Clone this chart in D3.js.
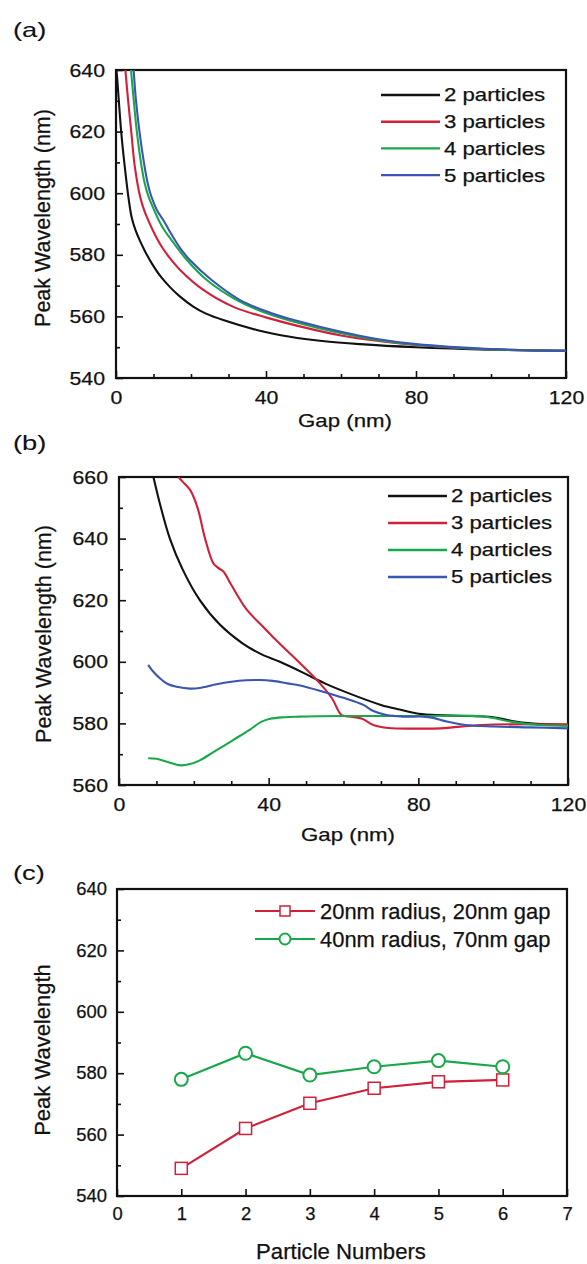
<!doctype html>
<html lang="en">
<head>
  <meta charset="utf-8">
  <title>Peak wavelength vs gap</title>
  <style>
    body { margin: 0; background: #fff; }
    svg { display: block; }
    text { font-family: "Liberation Sans", Arial, sans-serif; fill: #111; stroke: #111; stroke-width: 0.25; }
    text.plain { stroke-width: 0.1; }
  </style>
</head>
<body>
  <script src="https://cdn.jsdelivr.net/npm/d3@7/dist/d3.min.js"></script>
  <script>
    // ---- data ----
    var seriesNames = ['2 particles', '3 particles', '4 particles', '5 particles']
    var seriesColors = ['#111111', '#d0203a', '#18a84a', '#3b55b2']

    // panel (a): [gap nm, peak nm]
    var a2 = [[0,641],[0.27,638],[0.72,630.5],[1.41,619.6],[2.32,608.8],[3.39,598],[4.2,592],[5.2,588],[6.4,584.5],[7.8,581],[9.5,577.3],[12,572.8],[14.4,569.5],[17,566.5],[20.6,563.2],[24,560.9],[28.6,558.8],[37.5,555.6],[46.4,553.4],[55,552],[65,551],[80,550],[100,549.2],[120,548.8]]
    var a3 = [[2.5,640],[3.2,630.5],[4.1,619.6],[5,608.8],[6.5,598.5],[7.5,594.5],[8.5,591.5],[10,587.5],[12.2,582.6],[14,579.5],[17.1,575.1],[23.3,568.6],[31.3,563.1],[40.2,559.6],[48.2,557],[60,553.8],[70,552],[80,550.7],[100,549.3],[120,548.8]]
    var a4 = [[4,640],[4.7,630.5],[5.6,619.6],[6.8,608.8],[7.7,603],[8.7,598.8],[10,595],[11.5,591],[13,587.8],[14.8,584.8],[16.5,582],[18.9,578.3],[24.2,571.8],[32.2,565.3],[40.2,561],[48.2,558],[60,554.5],[70,552.3],[80,550.8],[100,549.3],[120,548.8]]
    var a5 = [[4.7,640],[5.3,630.5],[6.3,619.6],[7.6,608.8],[8.5,603],[9.4,599],[11,594.3],[12.6,591.3],[14,588.3],[15.7,584.8],[17.5,581.5],[19.7,578.3],[25.5,571.8],[33.1,565.3],[41.1,561.2],[48.2,558.6],[60,555],[70,552.6],[80,551],[100,549.4],[120,548.8]]

    // panel (b): [gap nm, peak nm]
    var b2 = [[9.2,660],[11,651],[13.6,640],[17,630],[21.6,620],[27,612],[33,606],[38,602.5],[43,600],[50,596],[55,593],[62,589.5],[70,586],[75,584.5],[81,583],[90,582.5],[100,582],[105,580.8],[110,580],[120,579.5]]
    var b3 = [[15.9,660],[17,658.5],[19,655.8],[21,650],[23,640],[25.2,632],[26.5,630.5],[27.9,629.3],[30,625],[34.1,617],[38,612],[41.2,608],[45,603.5],[48.4,599.5],[53.7,593],[57,588],[59.5,582.7],[62,582.2],[65,581.5],[68,579.5],[72,578.5],[80,578.3],[86,578.4],[97,579.5],[120,579.7]]
    var b4 = [[7.8,568.7],[10,568.5],[13,567.5],[16.3,566.4],[19,566.8],[21.6,568],[25,570.5],[30.5,574.6],[35,578],[38,580.5],[40.4,581.5],[44,582],[48,582.2],[60,582.4],[80,582.4],[97,582.3],[105,580.5],[112,579.5],[120,579.2]]
    var b5 = [[7.8,599],[9,597],[11,594.6],[13,592.8],[15.4,591.9],[19,591.3],[22,591.6],[26.1,592.7],[30,593.5],[34,594],[37.7,594.1],[41,593.8],[45,593],[48.4,592.3],[54.5,590.3],[60,588.3],[65.3,586],[68,584],[71.5,582.7],[76,582.2],[81.3,582.2],[84,581.8],[87.6,580.6],[92.6,579.5],[100,579],[110,578.7],[120,578.4]]

    // panel (c)
    var particleNumbers = [1, 2, 3, 4, 5, 6]
    var peak20 = [549, 562, 570.2, 575.1, 577.2, 577.8]
    var peak40 = [578, 586.5, 579.4, 582.1, 584.1, 582.1]
    var seriesC = ['20nm radius, 20nm gap', '40nm radius, 70nm gap']

    var ticksGap = [0, 40, 80, 120]
    var ticksGapMinor = [10, 20, 30, 50, 60, 70, 90, 100, 110]
    var ticksA = [540, 560, 580, 600, 620, 640]
    var ticksB = [560, 580, 600, 620, 640, 660]
    var ticksC = [540, 560, 580, 600, 620, 640]
    var ticksCx = [0, 1, 2, 3, 4, 5, 6, 7]

    var svg = d3.select('body').append('svg')
      .attr('width', 587)
      .attr('height', 1264)

    // text in the original is wider than Arial; stretch it after layout
    function stretch(sel, k) {
      sel.each(function() {
        var len = this.getComputedTextLength()
        d3.select(this).attr('textLength', len * k).attr('lengthAdjust', 'spacingAndGlyphs')
      })
    }

    function panel(cfg) {
      var x = d3.scaleLinear().domain(cfg.xDomain).range([cfg.left, cfg.right])
      var y = d3.scaleLinear().domain(cfg.yDomain).range([cfg.bottom, cfg.top])
      var g = svg.append('g')

      var clipId = 'clip' + cfg.id
      g.append('clipPath').attr('id', clipId)
        .append('rect')
          .attr('x', cfg.left).attr('y', cfg.top)
          .attr('width', cfg.right - cfg.left).attr('height', cfg.bottom - cfg.top)

      // minor ticks
      g.append('g')
        .attr('transform', 'translate(0,' + cfg.bottom + ')')
        .call(d3.axisBottom(x).tickValues(cfg.xMinor).tickSize(-4).tickFormat(''))
      g.append('g')
        .attr('transform', 'translate(' + cfg.left + ',0)')
        .call(d3.axisLeft(y).tickValues(cfg.yMinor).tickSize(-4).tickFormat(''))

      // major ticks with labels
      var xa = g.append('g')
        .attr('transform', 'translate(0,' + cfg.bottom + ')')
        .call(d3.axisBottom(x).tickValues(cfg.xMajor).tickSize(-7).tickPadding(cfg.xPad).tickFormat(d3.format('d')))
      var ya = g.append('g')
        .attr('transform', 'translate(' + cfg.left + ',0)')
        .call(d3.axisLeft(y).tickValues(cfg.yMajor).tickSize(-7).tickPadding(cfg.yPad).tickFormat(d3.format('d')))

      g.selectAll('.domain').remove()
      g.selectAll('.tick line').attr('stroke', '#111').attr('stroke-width', 1.6)
      g.selectAll('.tick text')
        .attr('font-family', '"Liberation Sans", Arial, sans-serif')
        .attr('font-size', cfg.tickFont)
        .attr('fill', '#111')
      stretch(xa.selectAll('.tick text'), cfg.tickStretch)
      stretch(ya.selectAll('.tick text'), cfg.tickStretch)

      // frame
      g.append('rect')
        .attr('x', cfg.left).attr('y', cfg.top)
        .attr('width', cfg.right - cfg.left).attr('height', cfg.bottom - cfg.top)
        .attr('fill', 'none').attr('stroke', '#111').attr('stroke-width', 2.2)

      // titles
      var lab = g.append('text')
        .attr('class', 'plain')
        .attr('x', 13).attr('y', cfg.labelY)
        .attr('font-family', '"Liberation Sans", Arial, sans-serif')
        .attr('font-size', 21)
        .text(cfg.label)
      stretch(lab, 1.3)

      var xt = g.append('text')
        .attr('x', cfg.xTitleX).attr('y', cfg.xTitleY)
        .attr('text-anchor', 'middle')
        .attr('font-size', cfg.xTitleFont)
        .text(cfg.xTitle)
      stretch(xt, cfg.xTitleStretch)

      g.append('text')
        .attr('transform', 'translate(' + cfg.yTitleX + ',' + cfg.yTitleY + ') rotate(-90)')
        .attr('text-anchor', 'middle')
        .attr('dy', '0.35em')
        .attr('font-size', cfg.yTitleFont)
        .text(cfg.yTitle)

      return { g: g, x: x, y: y, clip: 'url(#' + clipId + ')' }
    }

    function curvePanel(p, series, legend) {
      var line = d3.line()
        .x(function(d) { return p.x(d[0]) })
        .y(function(d) { return p.y(d[1]) })
        .curve(d3.curveCatmullRom.alpha(0.5))

      p.g.append('g').attr('clip-path', p.clip)
        .selectAll('path')
        .data(series)
        .enter().append('path')
          .attr('d', line)
          .attr('fill', 'none')
          .attr('stroke', function(d, i) { return seriesColors[i] })
          .attr('stroke-width', 2.1)

      var lg = p.g.append('g')
      seriesNames.forEach(function(name, i) {
        var yy = legend.y + i * legend.step
        lg.append('line')
          .attr('x1', legend.x).attr('x2', legend.x + 59)
          .attr('y1', yy).attr('y2', yy)
          .attr('stroke', seriesColors[i]).attr('stroke-width', 2.4)
        var t = lg.append('text')
          .attr('x', legend.x + 63).attr('y', yy)
          .attr('dy', '0.35em')
          .attr('font-size', 18.5)
          .text(name)
        stretch(t, 1.2)
      })
    }

    // ---- (a) ----
    var pa = panel({
      id: 'a', left: 116, right: 566, top: 70, bottom: 378,
      xDomain: [0, 120], yDomain: [540, 640],
      xMajor: ticksGap, xMinor: ticksGapMinor,
      yMajor: ticksA, yMinor: [550, 570, 590, 610, 630],
      xPad: 13, yPad: 11, tickFont: 19, tickStretch: 1.12,
      label: '(a)', labelY: 37,
      xTitle: 'Gap (nm)', xTitleX: 345, xTitleY: 427, xTitleFont: 19, xTitleStretch: 1.17,
      yTitle: 'Peak Wavelength (nm)', yTitleX: 42, yTitleY: 218, yTitleFont: 21.5
    })
    curvePanel(pa, [a2, a3, a4, a5], { x: 381, y: 95, step: 26.7 })

    // ---- (b) ----
    var pb = panel({
      id: 'b', left: 119, right: 568, top: 477, bottom: 785,
      xDomain: [0, 120], yDomain: [560, 660],
      xMajor: ticksGap, xMinor: ticksGapMinor,
      yMajor: ticksB, yMinor: [570, 590, 610, 630, 650],
      xPad: 13, yPad: 11, tickFont: 19, tickStretch: 1.12,
      label: '(b)', labelY: 450,
      xTitle: 'Gap (nm)', xTitleX: 348, xTitleY: 841, xTitleFont: 19, xTitleStretch: 1.17,
      yTitle: 'Peak Wavelength (nm)', yTitleX: 43, yTitleY: 634, yTitleFont: 21.5
    })
    curvePanel(pb, [b2, b3, b4, b5], { x: 388, y: 496, step: 27 })

    // ---- (c) ----
    var pc = panel({
      id: 'c', left: 117, right: 567, top: 889, bottom: 1196,
      xDomain: [0, 7], yDomain: [540, 640],
      xMajor: ticksCx, xMinor: [],
      yMajor: ticksC, yMinor: [550, 570, 590, 610, 630],
      xPad: 12, yPad: 10, tickFont: 17.5, tickStretch: 1.05,
      label: '(c)', labelY: 880,
      xTitle: 'Particle Numbers', xTitleX: 341, xTitleY: 1259, xTitleFont: 21.5, xTitleStretch: 1.03,
      yTitle: 'Peak Wavelength', yTitleX: 42, yTitleY: 1050, yTitleFont: 22
    })

    var cSeries = [
      { name: seriesC[0], values: peak20, color: '#d0203a', shape: 'square' },
      { name: seriesC[1], values: peak40, color: '#18a84a', shape: 'circle' }
    ]
    var lineC = d3.line()
      .x(function(d, i) { return pc.x(particleNumbers[i]) })
      .y(function(d) { return pc.y(d) })

    function marker(sel, shape, color, size) {
      if (shape === 'square') {
        sel.append('rect')
          .attr('x', -size).attr('y', -size)
          .attr('width', size * 2).attr('height', size * 2)
          .attr('fill', '#fff').attr('stroke', color).attr('stroke-width', 1.5)
      } else {
        sel.append('circle')
          .attr('r', size)
          .attr('fill', '#fff').attr('stroke', color).attr('stroke-width', 2)
      }
    }

    cSeries.forEach(function(s) {
      pc.g.append('path')
        .attr('d', lineC(s.values))
        .attr('fill', 'none')
        .attr('stroke', s.color)
        .attr('stroke-width', 2.2)
      s.values.forEach(function(v, i) {
        var m = pc.g.append('g')
          .attr('transform', 'translate(' + pc.x(particleNumbers[i]) + ',' + pc.y(v) + ')')
        marker(m, s.shape, s.color, s.shape === 'square' ? 6 : 6.5)
      })
    })

    cSeries.forEach(function(s, i) {
      var yy = 911 + i * 28
      pc.g.append('line')
        .attr('x1', 255).attr('x2', 315)
        .attr('y1', yy).attr('y2', yy)
        .attr('stroke', s.color).attr('stroke-width', 2.2)
      var m = pc.g.append('g').attr('transform', 'translate(285,' + yy + ')')
      marker(m, s.shape, s.color, s.shape === 'square' ? 5 : 5.5)
      var t = pc.g.append('text')
        .attr('x', 320).attr('y', yy)
        .attr('dy', '0.35em')
        .attr('font-size', 21.5)
        .text(s.name)
      stretch(t, 1.02)
    })
  </script>
</body>
</html>
